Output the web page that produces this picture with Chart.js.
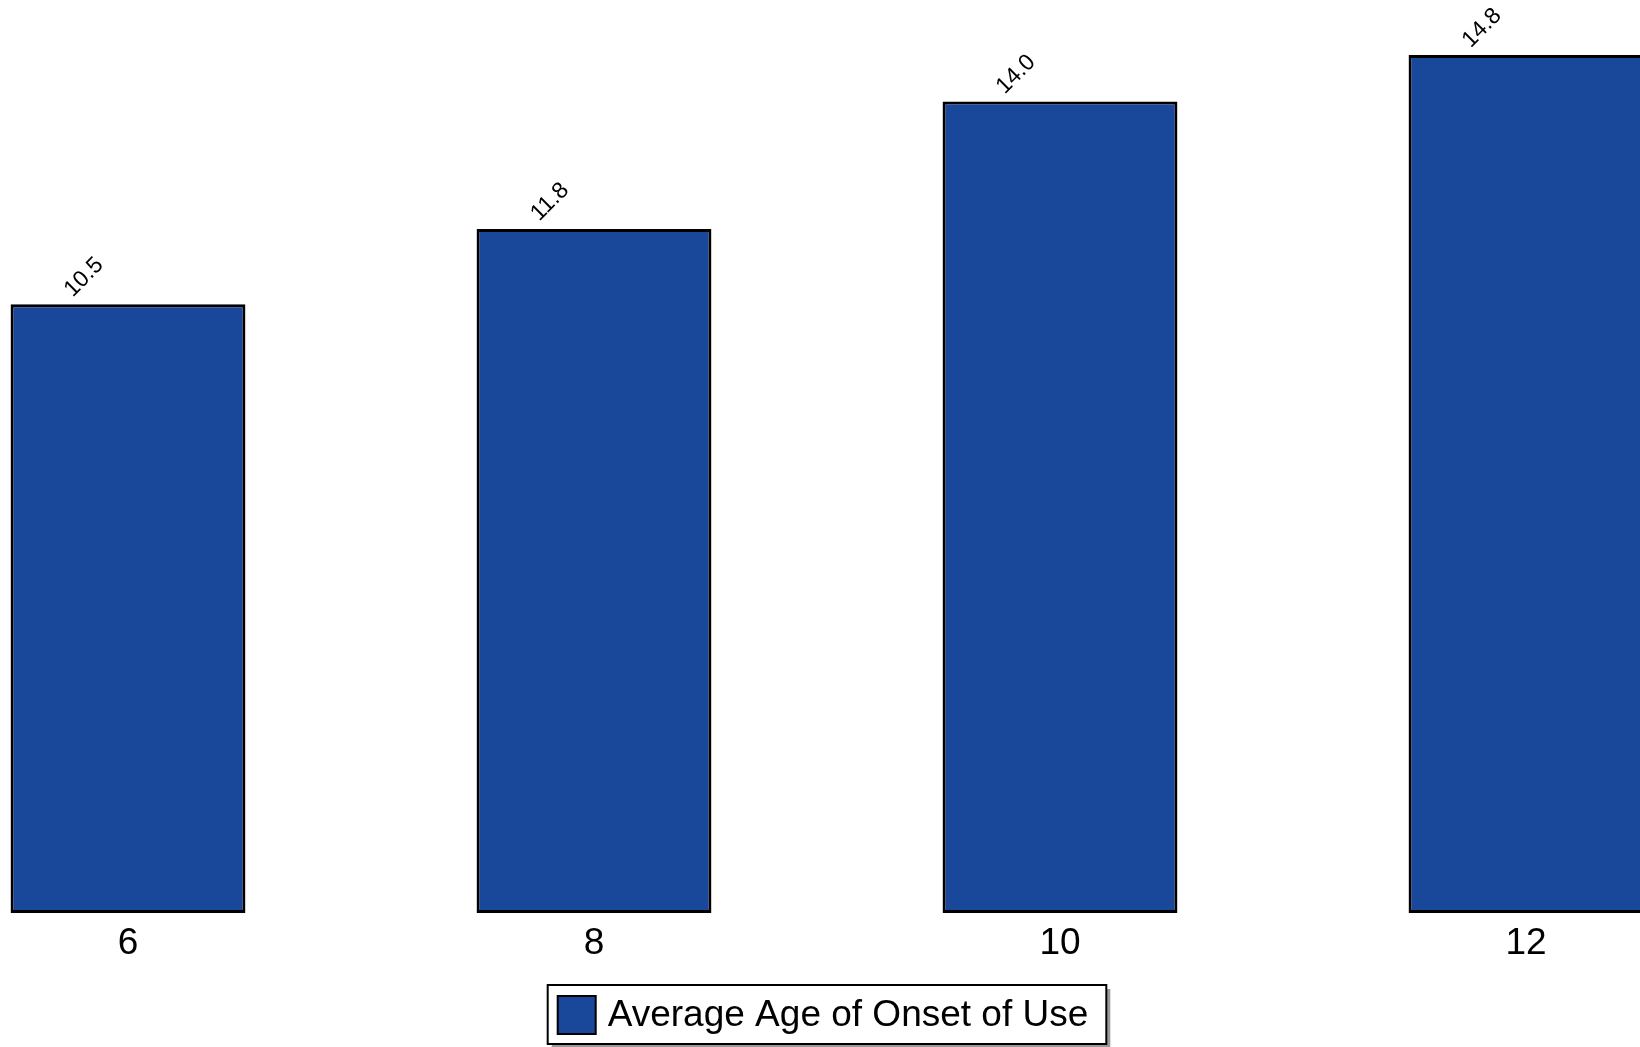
<!DOCTYPE html>
<html>
<head>
<meta charset="utf-8">
<script src="https://cdn.jsdelivr.net/npm/chart.js@4/dist/chart.umd.min.js"></script>
<style>
    html, body { margin: 0; padding: 0; background: #fff; overflow: hidden; }
    body { width: 1640px; height: 1047px; position: relative; }
    #onsetChart { position: absolute; left: -105px; top: 0; }
</style>
</head>
<body>
<canvas id="onsetChart" width="1864" height="1047"></canvas>
<script>
// Chart data
const categories = ['6', '8', '10', '12'];
const onsetAges = [10.5, 11.8, 14.0, 14.8];
const seriesLabel = 'Average Age of Onset of Use';

const FONT = '"Liberation Sans", Arial, sans-serif';
const barBlue = '#19479a';

// Rotated value labels above each bar
const valueLabels = {
    id: 'valueLabels',
    afterDatasetsDraw(chart) {
        const ctx = chart.ctx;
        const meta = chart.getDatasetMeta(0);
        ctx.save();
        ctx.font = '23px ' + FONT;
        ctx.fillStyle = '#000';
        ctx.textAlign = 'center';
        ctx.textBaseline = 'middle';
        meta.data.forEach((bar, i) => {
            ctx.save();
            ctx.translate(bar.x - 44, bar.y - 27);
            ctx.rotate(-Math.PI / 4);
            ctx.fillText(onsetAges[i].toFixed(1), 0, 0);
            ctx.restore();
        });
        ctx.restore();
    }
};

// Boxed legend with drop shadow, drawn under the x axis
const boxedLegend = {
    id: 'boxedLegend',
    afterDraw(chart) {
        const ctx = chart.ctx;
        const ds = chart.data.datasets[0];
        ctx.save();
        ctx.font = '37px ' + FONT;
        const textW = ctx.measureText(ds.label).width;
        const w = 10 + 38 + 12 + textW + 18;
        const h = 59;
        const x = chart.width / 2 - w / 2;
        const y = 985;

        // shadow + frame
        ctx.fillStyle = '#9a9a9a';
        ctx.fillRect(x + 4, y + 4, w, h);
        ctx.fillStyle = '#fff';
        ctx.fillRect(x, y, w, h);
        ctx.strokeStyle = '#000';
        ctx.lineWidth = 2;
        ctx.strokeRect(x, y, w, h);

        // swatch
        ctx.fillStyle = ds.backgroundColor;
        ctx.fillRect(x + 10, y + 11, 38, 38);
        ctx.strokeRect(x + 10, y + 11, 38, 38);

        // text
        ctx.fillStyle = '#000';
        ctx.textAlign = 'left';
        ctx.textBaseline = 'middle';
        ctx.fillText(ds.label, x + 60, y + h / 2 + 1);
        ctx.restore();
    }
};

new Chart(document.getElementById('onsetChart'), {
    type: 'bar',
    data: {
        labels: categories,
        datasets: [{
            label: seriesLabel,
            data: onsetAges,
            backgroundColor: barBlue,
            borderColor: '#000',
            borderWidth: 3,
            borderSkipped: false,
            categoryPercentage: 0.504,
            barPercentage: 1.0
        }]
    },
    options: {
        responsive: false,
        animation: false,
        devicePixelRatio: 1,
        layout: { padding: { top: 0, bottom: 73.5, left: 0, right: 0 } },
        plugins: {
            legend: { display: false },
            tooltip: { enabled: false }
        },
        scales: {
            x: {
                grid: { display: false, drawTicks: false },
                border: { display: false },
                ticks: {
                    color: '#000',
                    font: { family: FONT, size: 37 },
                    padding: 8
                }
            },
            y: {
                display: false,
                min: 0,
                max: 15.75
            }
        }
    },
    plugins: [valueLabels, boxedLegend]
});
</script>
</body>
</html>
